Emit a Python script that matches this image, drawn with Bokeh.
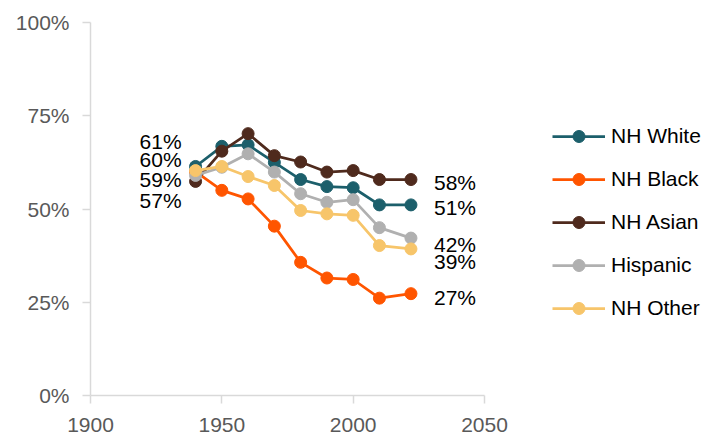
from bokeh.plotting import figure
from bokeh.models import (Range1d, FixedTicker, PrintfTickFormatter, Legend, LegendItem,
                          ColumnDataSource)
from bokeh.embed import file_html
from bokeh.resources import INLINE

years = [1940, 1950, 1960, 1970, 1980, 1990, 2000, 2010, 2022]
nh_white = [61.4, 66.8, 67.2, 62.5, 57.9, 56.0, 55.7, 51.1, 51.1]
nh_black = [60.0, 55.0, 52.7, 45.4, 35.7, 31.5, 31.1, 26.1, 27.3]
nh_asian = [57.4, 65.5, 70.2, 64.3, 62.6, 59.9, 60.3, 57.9, 57.9]
hispanic = [59.0, 61.2, 64.8, 59.9, 54.1, 51.8, 52.5, 45.0, 42.2]
nh_other = [60.3, 61.4, 58.7, 56.3, 49.6, 48.7, 48.3, 40.2, 39.3]

series_names = ["NH White", "NH Black", "NH Asian", "Hispanic", "NH Other"]
series_values = [nh_white, nh_black, nh_asian, hispanic, nh_other]
colors = ["#1C5F6B", "#FF5500", "#4F2A1D", "#B0B0B0", "#F7C56A"]

x_ticks = [1900, 1950, 2000, 2050]
y_ticks = [0, 25, 50, 75, 100]

# label nudges (screen px) to avoid overlap
left_label_series = ["NH White", "NH Other", "Hispanic", "NH Asian"]
left_label_dy = [-25, -11, 4.5, 19]
right_label_series = ["NH Asian", "NH White", "Hispanic", "NH Other", "NH Black"]
right_label_dy = [2.5, 3, 6.5, 12.5, 3.5]

FONT = "Liberation Sans"
GRAY = "#595959"
AXIS = "#D9D9D9"

# axis spans 1900-2050 over 394px; frame extends right to hold the legend
x_end = 1900 + 150 * 616 / 394

p = figure(width=706, height=435, output_backend="svg", toolbar_location=None,
           x_range=Range1d(1900, x_end), y_range=Range1d(0, 100),
           min_border_left=90, min_border_top=22, min_border_right=0, min_border_bottom=40)
p.outline_line_color = None
p.xgrid.visible = False
p.ygrid.visible = False

for ax in (p.xaxis[0], p.yaxis[0]):
    ax.axis_line_color = AXIS
    ax.axis_line_width = 1.5
    ax.major_tick_line_color = AXIS
    ax.major_tick_line_width = 1.5
    ax.major_tick_out = 8
    ax.major_tick_in = 0
    ax.minor_tick_line_color = None
    ax.major_label_text_font = FONT
    ax.major_label_text_font_size = "21px"
    ax.major_label_text_color = GRAY

p.xaxis.bounds = (1900, 2050)
p.xaxis.ticker = FixedTicker(ticks=x_ticks)
p.yaxis.ticker = FixedTicker(ticks=y_ticks)
p.yaxis.formatter = PrintfTickFormatter(format="%d%%")
p.xaxis.major_label_standoff = 14
p.yaxis.major_label_standoff = 13

items = []
for name, vals, col in zip(series_names, series_values, colors):
    src = ColumnDataSource(dict(x=years, y=vals))
    r1 = p.line("x", "y", source=src, line_color=col, line_width=2.75)
    r2 = p.scatter("x", "y", source=src, size=12, fill_color=col, line_color=col)
    items.append(LegendItem(label=name, renderers=[r1, r2]))

legend = Legend(items=items, location=(462, 72), padding=0, margin=0,
                border_line_color=None, background_fill_alpha=0,
                glyph_width=53, glyph_height=30, label_height=30, spacing=13,
                label_standoff=6, label_text_font=FONT, label_text_font_size="21px",
                label_text_color="#000000")
p.add_layout(legend)

lookup = dict(zip(series_names, series_values))

lx, ly, lt, ldy = [], [], [], []
for name, dy in zip(left_label_series, left_label_dy):
    v = lookup[name][0]
    lx.append(years[0]); ly.append(v); lt.append(f"{round(v)}%"); ldy.append(dy)
p.text(x="x", y="y", text="t", y_offset="dy",
       source=ColumnDataSource(dict(x=lx, y=ly, t=lt, dy=ldy)),
       x_offset=-14, text_align="right", text_baseline="middle",
       text_font={"value": FONT}, text_font_size="21px", text_color="#000000")

rx, ry, rt, rdy = [], [], [], []
for name, dy in zip(right_label_series, right_label_dy):
    v = lookup[name][-1]
    rx.append(years[-1]); ry.append(v); rt.append(f"{round(v)}%"); rdy.append(dy)
p.text(x="x", y="y", text="t", y_offset="dy",
       source=ColumnDataSource(dict(x=rx, y=ry, t=rt, dy=rdy)),
       x_offset=23, text_align="left", text_baseline="middle",
       text_font={"value": FONT}, text_font_size="21px", text_color="#000000")

open("out.html", "w").write(file_html(p, INLINE))
